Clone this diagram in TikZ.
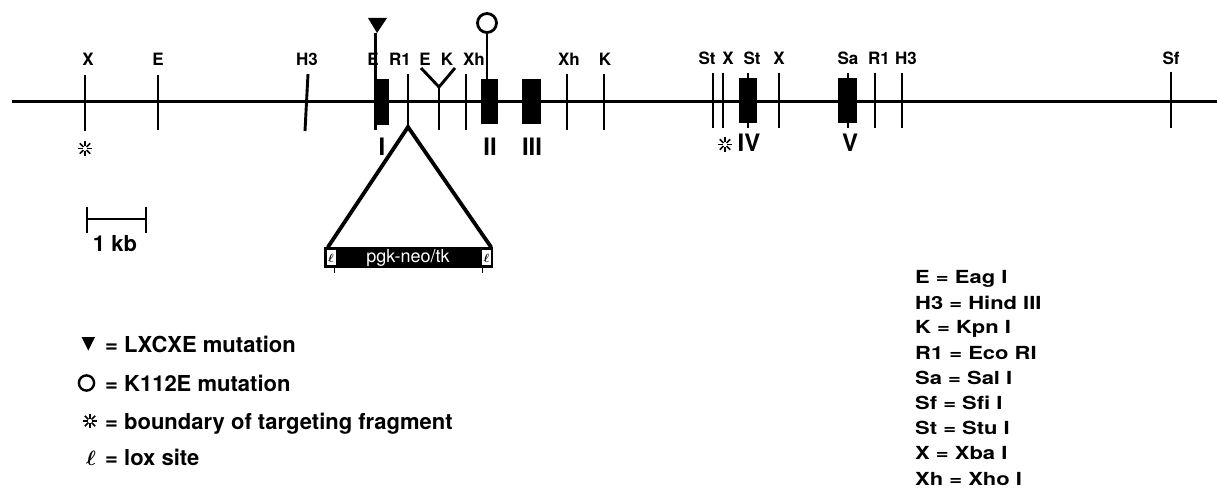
\documentclass[tikz,border=0pt]{standalone}
\usepackage{graphicx}
\usepackage{fontspec}
\setmainfont{TeX Gyre Heros}
\begin{document}
\begin{tikzpicture}[x=1pt,y=-1pt,
  dna/.style={line width=3pt},
  site/.style={line width=2.9pt},
  leg/.style={line width=3.8pt, line cap=round},
  exon/.style={fill=black},
  lbl/.style={font=\fontsize{17}{17}\selectfont\bfseries, inner sep=0pt, anchor=base},
  roman/.style={font=\fontsize{24}{24}\selectfont\bfseries, inner sep=0pt, anchor=base},
  legtxt/.style={font=\fontsize{22}{22}\selectfont\bfseries, inner sep=0pt, anchor=base west},
  keytxt/.style={font=\fontsize{18}{18}\selectfont\bfseries, inner sep=0pt, anchor=base west},
  burst/.pic={\foreach \a in {0,45,...,315} \draw[line width=1.5pt] (\a:2.2) -- (\a:7.4);}
]
\useasboundingbox (0,0) rectangle (1217,502);

% genomic line
\coordinate (L) at (12,102);
\coordinate (R) at (1217,102);
\draw[dna] (L) -- (R);

% exons
\fill[exon] (374,79) rectangle (389,125);
\fill[exon] (481,79) rectangle (498,124);
\fill[exon] (522,79) rectangle (541,124);
\fill[exon] (739,78) rectangle (757,123);
\fill[exon] (838,78) rectangle (857,123);

% restriction sites
\draw[site] (85,75) -- (85,131);
\draw[site] (158,75) -- (158,130);
\draw[site] (308,74) -- (305,131);
\draw[site] (375.5,33) -- (375.5,130);
\draw[site] (408,74) -- (408,127);
\draw[site] (421,68) -- (439,87) -- (455,68);
\draw[site] (439,87) -- (439,130);
\draw[site] (466,74) -- (466,130);
\draw[site] (487,33) -- (487,80);
\draw[site] (567,74) -- (567,130);
\draw[site] (604,74) -- (604,130);
\draw[site] (713,73) -- (713,128);
\draw[site] (723,73) -- (723,128);
\draw[site] (748,73) -- (748,128);
\draw[site] (779,73) -- (779,128);
\draw[site] (848,73) -- (848,128);
\draw[site] (875,73) -- (875,128);
\draw[site] (902,73) -- (902,128);
\draw[site] (1171,72) -- (1171,128);

% mutation markers
\fill (368,18) -- (387,18) -- (377,33) -- cycle;
\draw[line width=2.8pt] (487,23) circle (9.5);

% site labels
\node[lbl] (lX1)  at (88,66)   {X};
\node[lbl] (lE1)  at (158,66)  {E};
\node[lbl] (lH31) at (307,66)  {H3};
\node[lbl] (lE2)  at (373,66)  {E};
\node[lbl] (lR11) at (400,66)  {R1};
\node[lbl] (lE3)  at (425,66)  {E};
\node[lbl] (lK1)  at (447,66)  {K};
\node[lbl] (lXh1) at (474,66)  {Xh};
\node[lbl] (lXh2) at (569,66)  {Xh};
\node[lbl] (lK2)  at (605,66)  {K};
\node[lbl] (lSt1) at (707,65)  {St};
\node[lbl] (lX2)  at (728,65)  {X};
\node[lbl] (lSt2) at (752,65)  {St};
\node[lbl] (lX3)  at (779,65)  {X};
\node[lbl] (lSa)  at (848,65)  {Sa};
\node[lbl] (lR12) at (879,65)  {R1};
\node[lbl] (lH32) at (906,65)  {H3};
\node[lbl] (lSf)  at (1171,65) {Sf};
% the E line runs across its label
\draw[site] (375.5,33) -- (375.5,70);

% exon numbers
\node[roman] (n1) at (382,156) {I};
\node[roman] (n2) at (490,156) {II};
\node[roman] (n3) at (532,156) {III};
\node[roman] (n4) at (749,152) {IV};
\node[roman] (n5) at (850,152) {V};

% targeting fragment boundaries
\pic at (85,148.5) {burst};
\pic at (725,144.5) {burst};

% inserted cassette
\coordinate (ins) at (408,127);
\coordinate (cl) at (328,247);
\coordinate (cr) at (491,247);
\draw[leg] (cl) -- (ins) -- (cr);
\fill (324,247) rectangle (493,268);
\fill[white] (326.5,250) rectangle (336,265.5);
\fill[white] (482,250) rectangle (490.5,265.5);
\node[inner sep=0pt, font=\fontsize{13}{13}\selectfont\boldmath] (lox1) at (331,258) {$\ell$};
\node[inner sep=0pt, font=\fontsize{13}{13}\selectfont\boldmath] (lox2) at (486.5,258) {$\ell$};
\draw[line width=1.4pt] (334.5,268) -- (334.5,273);
\draw[line width=1.4pt] (482.5,268) -- (482.5,273);
\node[inner sep=0pt, anchor=base, text=white, font=\fontsize{18}{18}\selectfont] (cas) at (408,263) {pgk-neo/tk};

% scale bar
\draw[site] (87,207) -- (87,233);
\draw[site] (146,207) -- (146,233);
\draw[line width=2.4pt] (87,219) -- (146,219);
\node[legtxt, anchor=base] (kb) at (115,252) {1 kb};

% key to symbols
\fill (81.5,337) -- (95,337) -- (88.3,350.5) -- cycle;
\node[legtxt] (s1) at (105,352) {= LXCXE mutation};
\draw[line width=2.4pt] (86.5,383) circle (7.6);
\node[legtxt] (s2) at (105,391) {= K112E mutation};
\pic at (90,421) {burst};
\node[legtxt] (s3) at (105,429) {= boundary of targeting fragment};
\node[inner sep=0pt, anchor=base, font=\fontsize{22}{22}\selectfont\boldmath] (s4sym) at (91,465) {$\ell$};
\node[legtxt] (s4) at (105,465) {= lox site};

% key to enzymes
\node[keytxt] (k1) at (915,284) {\scalebox{1.22}[1]{E = Eag I}};
\node[keytxt] (k2) at (915,309) {\scalebox{1.22}[1]{H3 = Hind III}};
\node[keytxt] (k3) at (915,334) {\scalebox{1.22}[1]{K = Kpn I}};
\node[keytxt] (k4) at (915,359) {\scalebox{1.22}[1]{R1 = Eco RI}};
\node[keytxt] (k5) at (915,384) {\scalebox{1.22}[1]{Sa = Sal I}};
\node[keytxt] (k6) at (915,409) {\scalebox{1.22}[1]{Sf = Sfi I}};
\node[keytxt] (k7) at (915,434) {\scalebox{1.22}[1]{St = Stu I}};
\node[keytxt] (k8) at (915,459) {\scalebox{1.22}[1]{X = Xba I}};
\node[keytxt] (k9) at (915,485) {\scalebox{1.22}[1]{Xh = Xho I}};
\end{tikzpicture}
\end{document}
